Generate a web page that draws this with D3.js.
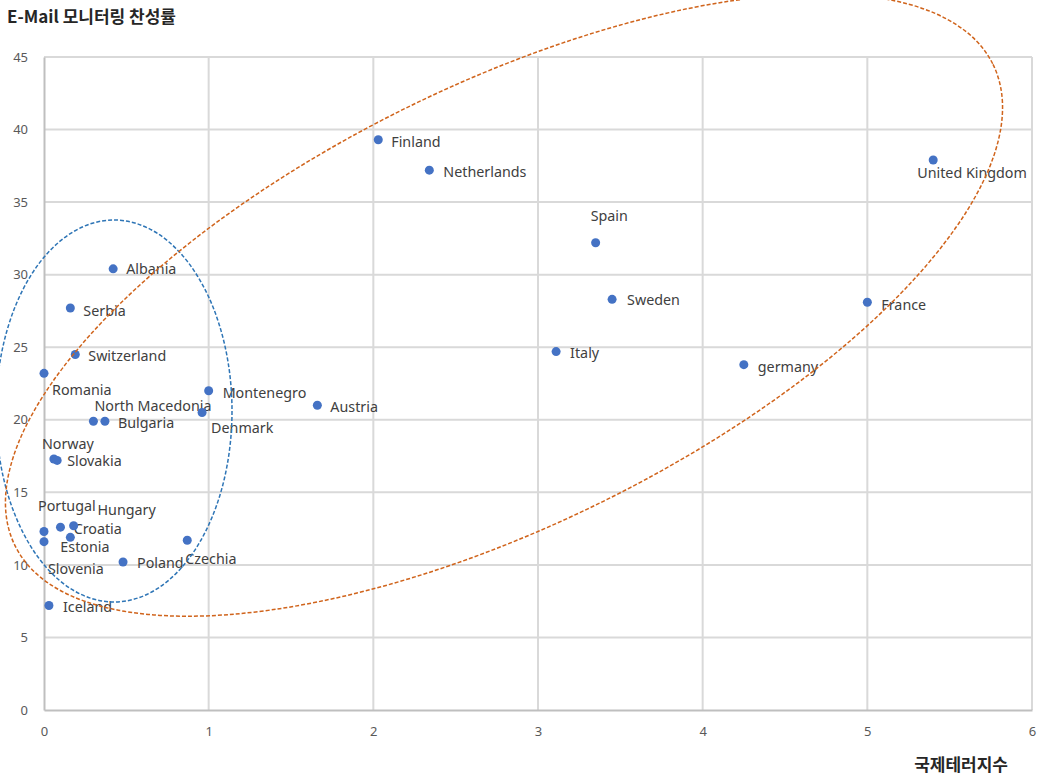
<!DOCTYPE html>
<html>
<head>
<meta charset="utf-8">
<script src="https://cdn.jsdelivr.net/npm/d3@7"></script>
<style>
  html, body { margin: 0; padding: 0; background: #ffffff; }
  svg { display: block; }
</style>
</head>
<body>
<svg id="chart" width="1038" height="776"></svg>
<script>
// Country names, terrorism index (x) and e-mail monitoring approval (y)
const countries = [
  "Finland", "Netherlands", "United Kingdom", "Spain", "Sweden", "France",
  "Italy", "germany", "Austria", "Montenegro", "Denmark", "Albania",
  "Serbia", "Switzerland", "Romania", "North Macedonia", "Bulgaria",
  "Norway", "Slovakia", "Portugal", "Hungary", "Croatia", "Estonia",
  "Slovenia", "Poland", "Czechia", "Iceland"
];
const terrorIndex = [
  2.03, 2.34, 5.40, 3.35, 3.45, 5.00,
  3.11, 4.25, 1.66, 1.00, 0.96, 0.42,
  0.16, 0.19, 0.00, 0.30, 0.37,
  0.06, 0.08, 0.00, 0.10, 0.18, 0.16,
  0.00, 0.48, 0.87, 0.03
];
const approval = [
  39.3, 37.2, 37.9, 32.2, 28.3, 28.1,
  24.7, 23.8, 21.0, 22.0, 20.5, 30.4,
  27.7, 24.5, 23.2, 19.9, 19.9,
  17.3, 17.2, 12.3, 12.6, 12.7, 11.9,
  11.6, 10.2, 11.7, 7.2
];
const xTicks = [0, 1, 2, 3, 4, 5, 6];
const yTicks = [0, 5, 10, 15, 20, 25, 30, 35, 40, 45];

const chartTitle = "E-Mail 모니터링 찬성률";
const xTitle = "국제테러지수";

// Data-label placement: [dx, dy] of the label's start / middle from its marker
const labelOffsets = {
  "Finland": [13, 2], "Netherlands": [14, 1], "United Kingdom": [-16, 12],
  "Spain": [-5, -27], "Sweden": [15, 0], "France": [14, 2], "Italy": [14, 1],
  "germany": [14, 2], "Austria": [13, 1], "Montenegro": [14, 2],
  "Denmark": [9, 15], "Albania": [13, 0], "Serbia": [13, 2],
  "Switzerland": [13, 1], "Romania": [8, 16], "North Macedonia": [1, -16],
  "Bulgaria": [13, 1], "Norway": [-12, -15], "Slovakia": [10, 0],
  "Portugal": [-6, -26], "Hungary": [37, -18], "Croatia": [0, 3],
  "Estonia": [-10, 9], "Slovenia": [4, 27], "Poland": [14, 1],
  "Czechia": [-2, 18], "Iceland": [14, 1]
};

const points = countries.map((name, i) => ({ name, x: terrorIndex[i], y: approval[i] }));

const svg = d3.select("#chart");
const plot = { left: 44, right: 1032, top: 57, bottom: 710 };

const x = d3.scaleLinear().domain([0, 6]).range([plot.left, plot.right]);
const y = d3.scaleLinear().domain([0, 45]).range([plot.bottom, plot.top]);

const fontLatin = "'Noto Sans', 'Open Sans', sans-serif";
const fontKr = "'Noto Sans CJK KR', 'Noto Sans', sans-serif";

// Gridlines
const grid = svg.append("g");
grid.selectAll("line.gx").data(xTicks.slice(1)).join("line")
  .attr("x1", d => x(d)).attr("x2", d => x(d))
  .attr("y1", plot.top).attr("y2", plot.bottom)
  .attr("stroke", "#d9d9d9").attr("stroke-width", 2);
grid.selectAll("line.gy").data(yTicks.slice(1)).join("line")
  .attr("x1", plot.left).attr("x2", plot.right)
  .attr("y1", d => y(d)).attr("y2", d => y(d))
  .attr("stroke", "#d9d9d9").attr("stroke-width", 2);

// Axes
const xAxis = svg.append("g")
  .attr("transform", `translate(0,${plot.bottom})`)
  .call(d3.axisBottom(x).tickValues(xTicks).tickSize(0).tickPadding(17).tickFormat(d3.format("d")));
const yAxis = svg.append("g")
  .attr("transform", `translate(${plot.left},0)`)
  .call(d3.axisLeft(y).tickValues(yTicks).tickSize(0).tickPadding(16).tickFormat(d3.format("d")));
[xAxis, yAxis].forEach(ax => {
  ax.select(".domain").attr("stroke", "#bfbfbf").attr("stroke-width", 2);
  ax.selectAll("text").attr("fill", "#595959").style("font-family", fontLatin).style("font-size", "13px");
});

// Data labels
svg.append("g").selectAll("text").data(points).join("text")
  .attr("x", d => x(d.x) + labelOffsets[d.name][0])
  .attr("y", d => y(d.y) + labelOffsets[d.name][1])
  .attr("dominant-baseline", "central")
  .attr("fill", "#404040")
  .style("font-family", fontLatin)
  .style("font-size", "14.3px")
  .text(d => d.name);

// Markers
svg.append("g").selectAll("circle").data(points).join("circle")
  .attr("cx", d => x(d.x)).attr("cy", d => y(d.y))
  .attr("r", 4.5)
  .attr("fill", "#4472c4");

// Highlight ellipses
svg.append("ellipse")
  .attr("cx", 114).attr("cy", 411).attr("rx", 118).attr("ry", 191)
  .attr("fill", "none").attr("stroke", "#2e75b6").attr("stroke-width", 1.5)
  .attr("stroke-dasharray", "4 2");
svg.append("ellipse")
  .attr("cx", 504).attr("cy", 305).attr("rx", 545).attr("ry", 220)
  .attr("transform", "rotate(-26.2 504 305)")
  .attr("fill", "none").attr("stroke", "#d0641c").attr("stroke-width", 1.5)
  .attr("stroke-dasharray", "4 2");

// Titles
svg.append("text")
  .attr("x", 7).attr("y", 15)
  .attr("dominant-baseline", "central")
  .attr("fill", "#262626")
  .style("font-family", fontKr).style("font-size", "17px").style("font-weight", "bold")
  .text(chartTitle);
svg.append("text")
  .attr("x", 1008).attr("y", 763)
  .attr("text-anchor", "end")
  .attr("dominant-baseline", "central")
  .attr("fill", "#262626")
  .style("font-family", fontKr).style("font-size", "17px").style("font-weight", "bold")
  .text(xTitle);
</script>
</body>
</html>
